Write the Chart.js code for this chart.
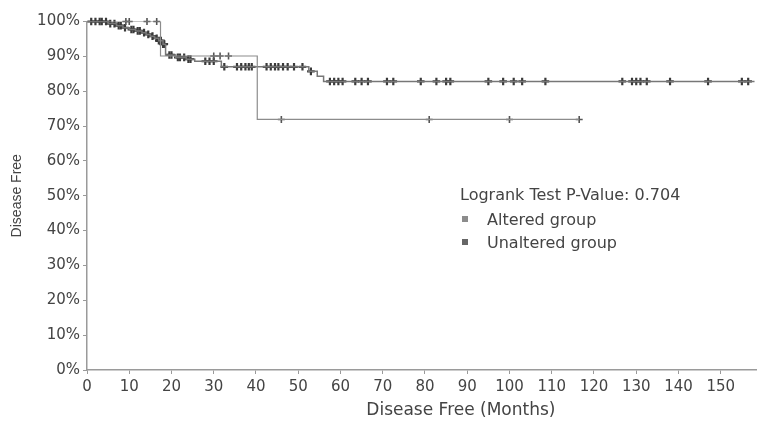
<!DOCTYPE html>
<html>
<head>
<meta charset="utf-8">
<script src="https://cdn.jsdelivr.net/npm/chart.js@4.4.0/dist/chart.umd.min.js"></script>
<style>
  html, body { margin: 0; padding: 0; background: #fff; overflow: hidden; width: 757px; height: 425px; }
  #wrap { position: relative; width: 757px; height: 425px; overflow: hidden; }
  #km { position: absolute; left: 0; top: 0; }
  .note { position: absolute; font-family: "DejaVu Sans"; font-size: 16px; color: #444; white-space: nowrap; line-height: 18px; }
  .sw { display: inline-block; width: 6px; height: 6px; margin-right: 19px; vertical-align: 3px; }
</style>
</head>
<body>
<div id="wrap">
  <canvas id="km" width="841" height="425"></canvas>
  <div class="note" style="left:460px; top:186px;">Logrank Test P-Value: 0.704</div>
  <div class="note" style="left:462px; top:211px;"><span class="sw" style="background:#8c8c8c"></span>Altered group</div>
  <div class="note" style="left:462px; top:234px;"><span class="sw" style="background:#666"></span>Unaltered group</div>
</div>
<script>
// Kaplan-Meier steps (months, % disease free)
const alteredTime = [0, 17.4, 40.3, 116.5];
const alteredSurv = [100, 90.1, 71.9, 71.9];
const alteredCensor = [9.2, 10, 14.2, 16.5, 30, 31.5, 33.5, 46, 81, 100, 116.5];

const unalteredTime = [0, 5, 7, 8.5, 10, 11.5, 13, 14, 15, 16, 17, 18, 18.6, 21, 23.5, 25.5, 31.8, 52.5, 54.5, 56, 158];
const unalteredSurv = [100, 99.4, 98.8, 98.2, 97.7, 97.3, 96.8, 96.3, 95.8, 95.2, 94.5, 93.5, 90.4, 89.7, 89.2, 88.6, 87.0, 85.7, 84.3, 82.8, 82.8];
const unalteredCensor = [1, 2, 3, 3.5, 4.5, 5.5, 6.5, 7.5, 8, 9, 10.5, 11, 12, 12.5, 13.5, 14.5, 15.5, 16.5, 17, 17.5, 18, 18.3,
  19.5, 20, 21.5, 22, 23, 24, 24.5, 28, 29, 30, 32.5, 35.5, 36.5, 37.5, 38.3, 39, 42.5, 43.5, 44.5, 45.3, 46.4, 47.5, 49, 51, 53,
  57.5, 58.5, 59.5, 60.5, 63.5, 65, 66.5, 71, 72.5, 79, 82.7, 85, 86, 95, 98.5, 101, 103, 108.5,
  126.7, 129, 130, 131, 132.5, 138, 147, 155, 156.5];

const yTicks = [0, 10, 20, 30, 40, 50, 60, 70, 80, 90, 100];

// survival value of a step curve at time t
function survAt(times, surv, t) {
  let s = surv[0];
  for (let i = 0; i < times.length; i++) {
    if (times[i] <= t) s = surv[i];
  }
  return s;
}

const toPoints = (xs, ys) => xs.map((x, i) => ({ x: x, y: ys[i] }));
const censorPoints = (cs, times, surv) => cs.map(t => ({ x: t, y: survAt(times, surv, t) }));

Chart.defaults.font.family = 'DejaVu Sans';
Chart.defaults.color = '#444';

const AXIS = '#9a9a9a';

new Chart(document.getElementById('km').getContext('2d'), {
  type: 'scatter',
  data: {
    datasets: [
      {
        label: 'Altered group',
        data: toPoints(alteredTime, alteredSurv),
        showLine: true, stepped: true,
        borderColor: '#8c8c8c', borderWidth: 1.2,
        pointRadius: 0
      },
      {
        label: 'Unaltered group',
        data: toPoints(unalteredTime, unalteredSurv),
        showLine: true, stepped: true,
        borderColor: '#777', borderWidth: 1.5,
        pointRadius: 0
      },
      {
        label: 'Altered censored',
        data: censorPoints(alteredCensor, alteredTime, alteredSurv),
        showLine: false, clip: 8,
        pointStyle: 'cross', pointRadius: 3.5,
        borderColor: '#555', pointBorderWidth: 1.6
      },
      {
        label: 'Unaltered censored',
        data: censorPoints(unalteredCensor, unalteredTime, unalteredSurv),
        showLine: false, clip: 8,
        pointStyle: 'cross', pointRadius: 3.8,
        borderColor: '#3a3a3a', pointBorderWidth: 2.2
      }
    ]
  },
  options: {
    responsive: false,
    animation: false,
    layout: { padding: { top: 21.5, left: 0, right: 0, bottom: 0 } },
    plugins: { legend: { display: false }, tooltip: { enabled: false } },
    scales: {
      x: {
        type: 'linear', min: 0, max: 177,
        border: { display: true, color: AXIS, width: 1.5 },
        grid: { drawOnChartArea: false, color: AXIS, tickLength: 4 },
        ticks: {
          stepSize: 10, includeBounds: false, padding: 4,
          font: { size: 15 }, color: '#444',
          callback: v => (v <= 150 ? v : '')
        },
        title: { display: true, text: 'Disease Free (Months)', font: { size: 17 }, color: '#444', padding: { top: 0, bottom: 4 } },
        afterFit: s => { s.height = 55; }
      },
      y: {
        type: 'linear', min: 0, max: 100,
        border: { display: true, color: AXIS, width: 1.5 },
        grid: { drawOnChartArea: false, color: AXIS, tickLength: 4 },
        afterBuildTicks: s => { s.ticks = yTicks.map(v => ({ value: v })); },
        ticks: {
          padding: 3, font: { size: 15 }, color: '#444',
          callback: v => v + '%'
        },
        title: { display: true, text: 'Disease Free', font: { family: 'Liberation Sans', size: 14 }, color: '#444', padding: { top: 9, bottom: 0 } },
        afterFit: s => { s.width = 87; }
      }
    }
  }
});
</script>
</body>
</html>
